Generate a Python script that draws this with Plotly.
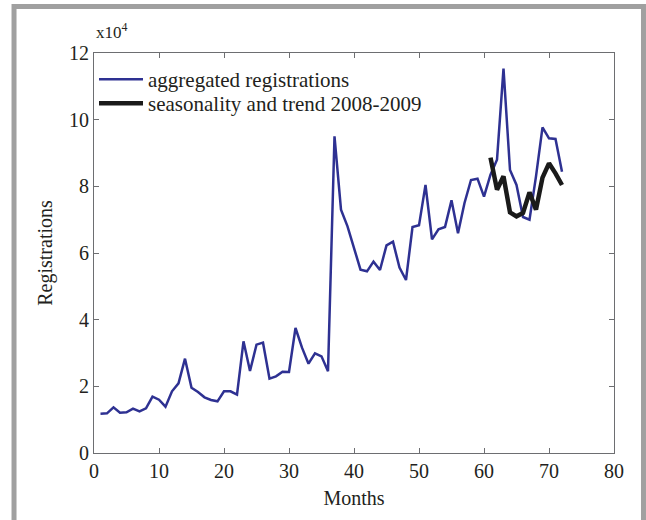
import plotly.graph_objects as go

# Monthly aggregated registrations (units of 10^4), months 1..72
months = list(range(1, 73))
registrations = [
    1.18, 1.19, 1.37, 1.21, 1.22, 1.33, 1.25, 1.34, 1.69, 1.60,
    1.39, 1.85, 2.09, 2.83, 1.96, 1.83, 1.67, 1.59, 1.55, 1.85,
    1.85, 1.75, 3.35, 2.46, 3.25, 3.31, 2.23, 2.30, 2.44, 2.43,
    3.75, 3.16, 2.68, 2.99, 2.90, 2.45, 9.50, 7.30, 6.80, 6.16,
    5.50, 5.45, 5.74, 5.49, 6.23, 6.34, 5.56, 5.19, 6.78, 6.83,
    8.04, 6.41, 6.71, 6.78, 7.58, 6.59, 7.50, 8.19, 8.23, 7.69,
    8.35, 8.80, 11.53, 8.49, 8.04, 7.08, 7.00, 8.30, 9.77, 9.44,
    9.42, 8.44,
]

# Seasonality and trend component for 2008-2009 (months 61..72)
trend_months = list(range(61, 73))
seasonal_trend = [8.86, 7.90, 8.30, 7.22, 7.10, 7.20, 7.82, 7.30, 8.26, 8.69, 8.39, 8.04]

x_ticks = [0, 10, 20, 30, 40, 50, 60, 70, 80]
y_ticks = [0, 2, 4, 6, 8, 10, 12]

FONT = "Liberation Serif"
TEXT = "#231f20"
AXIS = "#6d6e71"

fig = go.Figure()
fig.add_trace(go.Scatter(
    x=months, y=registrations, mode="lines",
    name="aggregated registrations",
    line=dict(color="#2e3192", width=2.5),
    legend="legend",
))
fig.add_trace(go.Scatter(
    x=trend_months, y=seasonal_trend, mode="lines",
    name="seasonality and trend 2008-2009",
    line=dict(color="#1a1a1a", width=4.5),
    legend="legend2",
))

axis_common = dict(
    showgrid=False, zeroline=False, showline=True, mirror="ticks",
    linecolor=AXIS, linewidth=1.2, ticks="inside", ticklen=5,
    tickcolor=AXIS, tickwidth=1,
    tickfont=dict(family=FONT, size=20, color=TEXT),
)

fig.update_xaxes(
    range=[0, 80], tickvals=x_ticks,
    title=dict(text="Months", font=dict(family=FONT, size=20, color=TEXT), standoff=9),
    **axis_common,
)
fig.update_yaxes(
    range=[0, 12], tickvals=y_ticks,
    title=dict(text="Registrations", font=dict(family=FONT, size=20, color=TEXT), standoff=10),
    **axis_common,
)

legend_style = dict(
    xanchor="left", yanchor="top",
    bgcolor="rgba(0,0,0,0)", borderwidth=0,
    font=dict(family=FONT, size=21, color=TEXT),
    itemwidth=44,
)

fig.update_layout(
    width=646, height=520,
    margin=dict(l=94, r=32, t=53, b=67),
    paper_bgcolor="white", plot_bgcolor="white",
    font=dict(family=FONT, color=TEXT),
    showlegend=True,
    legend=dict(x=0.0, y=0.985, **legend_style),
    legend2=dict(x=0.0, y=0.925, **legend_style),
    annotations=[dict(
        text="x10<sup>4</sup>", xref="paper", yref="paper",
        x=0.0, y=1.022, xanchor="left", yanchor="bottom", showarrow=False,
        font=dict(family=FONT, size=17, color=TEXT),
    )],
    shapes=[dict(
        type="rect", xref="paper", yref="paper",
        x0=-0.1538, x1=1.0567, y0=-0.25, y1=1.116,
        line=dict(color="#a0a0a0", width=5), fillcolor="rgba(0,0,0,0)",
        layer="below",
    )],
)

fig.write_html("out.html")
